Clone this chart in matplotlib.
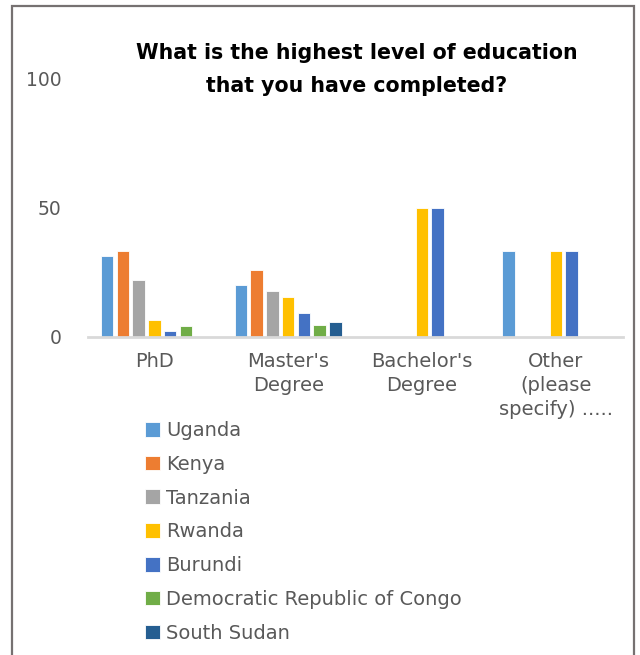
import matplotlib
matplotlib.use("Agg")
import matplotlib.pyplot as plt
from matplotlib.patches import Rectangle
import numpy as np

categories = ["PhD", "Master's\nDegree", "Bachelor's\nDegree", "Other\n(please\nspecify) ....."]
series = ["Uganda", "Kenya", "Tanzania", "Rwanda", "Burundi",
          "Democratic Republic of Congo", "South Sudan"]
uganda = [31.3, 20.0, 0, 33.3]
kenya = [33.3, 26.0, 0, 0]
tanzania = [22.0, 17.8, 0, 0]
rwanda = [6.6, 15.3, 50.0, 33.3]
burundi = [2.2, 9.1, 50.0, 33.3]
drc = [4.0, 4.4, 0, 0]
south_sudan = [0, 5.6, 0, 0]
values = [uganda, kenya, tanzania, rwanda, burundi, drc, south_sudan]
colors = ["#5B9BD5", "#ED7D31", "#A5A5A5", "#FFC000", "#4472C4", "#70AD47", "#255E91"]
title = "What is the highest level of education\nthat you have completed?"

W, H = 640, 655
plt.rcParams['font.family'] = ['DejaVu Sans']
fig = plt.figure(figsize=(W / 100, H / 100), dpi=100)

ax = fig.add_axes([87.5 / W, (H - 336.5) / H, (622.7 - 87.5) / W, (336.5 - 79) / H])
x = np.arange(len(categories))
pitch = 0.118
bw = 0.094
for i, (name, vals, c) in enumerate(zip(series, values, colors)):
    ax.bar(x + (i - 3) * pitch, vals, width=bw, color=c, label=name,
           edgecolor="white", linewidth=0.6, zorder=2)

ax.set_xlim(-0.5, len(categories) - 0.5)
ax.set_ylim(0, 100)
ax.set_yticks([0, 50, 100])
ax.tick_params(axis='y', length=0, labelsize=13.5, colors="#595959", pad=18.5)
ax.set_xticks(x)
ax.set_xticklabels(categories, fontsize=14, color="#595959", linespacing=1.32)
ax.tick_params(axis='x', length=0, pad=11.5)
for s in ["left", "right", "top"]:
    ax.spines[s].set_visible(False)
ax.spines["bottom"].set_color("#D9D9D9")
ax.spines["bottom"].set_linewidth(2)
ax.spines["bottom"].set_zorder(3)

fig.text(357 / W, 1 - 69.5 / H, title, ha="center", va="center", fontsize=14.8,
         fontweight="bold", color="black", linespacing=1.85)

leg = fig.legend(loc="upper left", bbox_to_anchor=(145 / W, 1 - 421 / H),
                 frameon=False, fontsize=14, labelcolor="#595959",
                 handlelength=0.78, handleheight=0.78, handletextpad=0.3,
                 labelspacing=0.76, borderpad=0, borderaxespad=0)

fig.patches.append(Rectangle((12 / W, -0.05), (634 - 12) / W, 1.05 - 6 / H,
                             transform=fig.transFigure, fill=False,
                             edgecolor="#767171", linewidth=1.6))

fig.savefig("out.png", dpi=100, facecolor="white")
